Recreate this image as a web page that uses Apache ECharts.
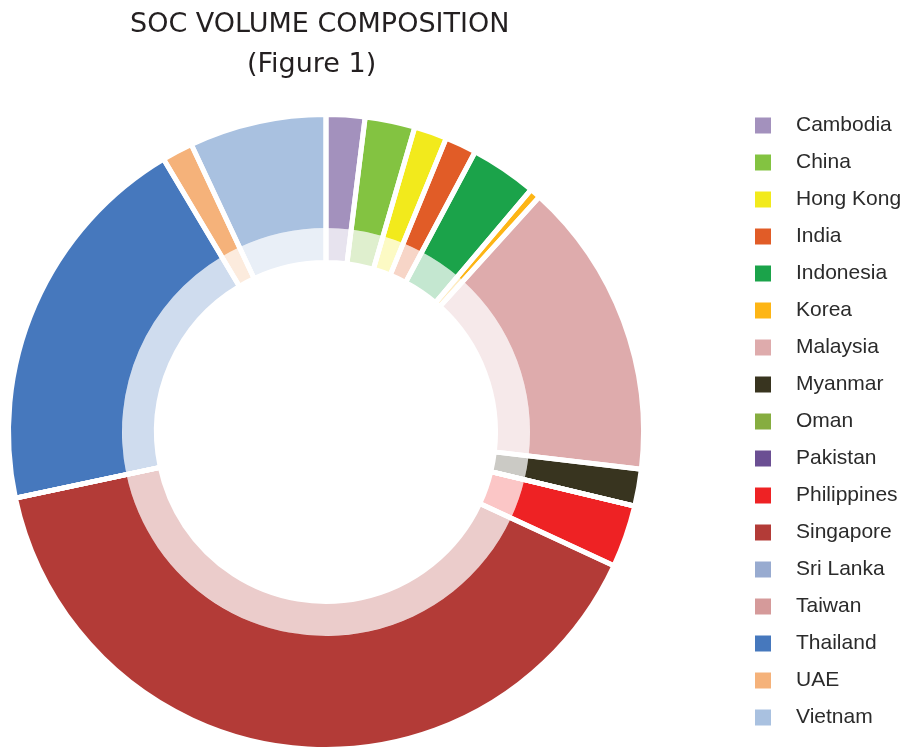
<!DOCTYPE html>
<html>
<head>
<meta charset="utf-8">
<title>SOC Volume Composition</title>
<script src="https://cdn.jsdelivr.net/npm/echarts@6/dist/echarts.min.js"></script>
<style>
  html, body { margin: 0; padding: 0; background: #fff; }
  #chart { width: 912px; height: 749px; }
</style>
</head>
<body>
<div id="chart"></div>
<script>
// countries, in legend / ring order (clockwise from 12 o'clock)
var countries = ['Cambodia', 'China', 'Hong Kong', 'India', 'Indonesia', 'Korea', 'Malaysia',
  'Myanmar', 'Oman', 'Pakistan', 'Philippines', 'Singapore', 'Sri Lanka', 'Taiwan',
  'Thailand', 'UAE', 'Vietnam'];

// share of SOC volume, %
var volumeShare = [1.97, 2.54, 1.67, 1.60, 3.39, 0.55, 15.14,
  1.88, 0, 0, 3.17, 39.72, 0, 0,
  19.79, 1.57, 6.97];

var countryColors = ['#a391bd', '#83c341', '#f2ea1c', '#e15c27', '#1ba34a', '#fdb515', '#deabac',
  '#38341f', '#86ad40', '#6b4f93', '#ee2224', '#b33b37', '#98abd0', '#d59a9a',
  '#4678bd', '#f5b27a', '#a9c1e0'];

var chart = echarts.init(document.getElementById('chart'), null, { renderer: 'canvas' });

function ringData(withNames) {
  return countries.map(function (name, i) {
    var item = { value: volumeShare[i], itemStyle: { color: countryColors[i] } };
    if (withNames) item.name = name;
    return item;
  });
}

var center = [326, 432];

var option = {
  animation: false,
  backgroundColor: '#fff',
  title: [{
    text: 'SOC VOLUME COMPOSITION',
    left: 130,
    top: 11,
    padding: 0,
    textStyle: { fontFamily: 'DejaVu Sans', fontSize: 27, fontWeight: 'normal', color: '#231f20' }
  }, {
    text: '(Figure 1)',
    left: 247,
    top: 51,
    padding: 0,
    textStyle: { fontFamily: 'DejaVu Sans', fontSize: 27, fontWeight: 'normal', color: '#231f20' }
  }],
  legend: {
    orient: 'vertical',
    left: 755,
    top: 115,
    padding: 0,
    icon: 'rect',
    itemWidth: 16,
    itemHeight: 16,
    itemGap: 16,
    data: countries,
    selectedMode: false,
    textStyle: {
      fontFamily: 'Liberation Sans',
      fontSize: 21,
      lineHeight: 21,
      color: '#2b2b2b',
      padding: [0, 0, 0, 20]
    }
  },
  series: [{
    // outer, full colour ring
    type: 'pie',
    center: center,
    radius: [204, 318],
    startAngle: 90,
    clockwise: true,
    silent: true,
    label: { show: false },
    labelLine: { show: false },
    data: ringData(true)
  }, {
    // inner, faded ring
    type: 'pie',
    center: center,
    radius: [169, 204],
    startAngle: 90,
    clockwise: true,
    silent: true,
    label: { show: false },
    labelLine: { show: false },
    itemStyle: { opacity: 0.26 },
    data: ringData(true)
  }, {
    // white separators drawn over both rings
    type: 'pie',
    center: center,
    radius: [169.5, 317.5],
    startAngle: 90,
    clockwise: true,
    silent: true,
    z: 5,
    label: { show: false },
    labelLine: { show: false },
    itemStyle: { color: 'rgba(0,0,0,0)', borderColor: '#fff', borderWidth: 5 },
    data: volumeShare.map(function (v) { return { value: v }; })
  }]
};

chart.setOption(option);
</script>
</body>
</html>
